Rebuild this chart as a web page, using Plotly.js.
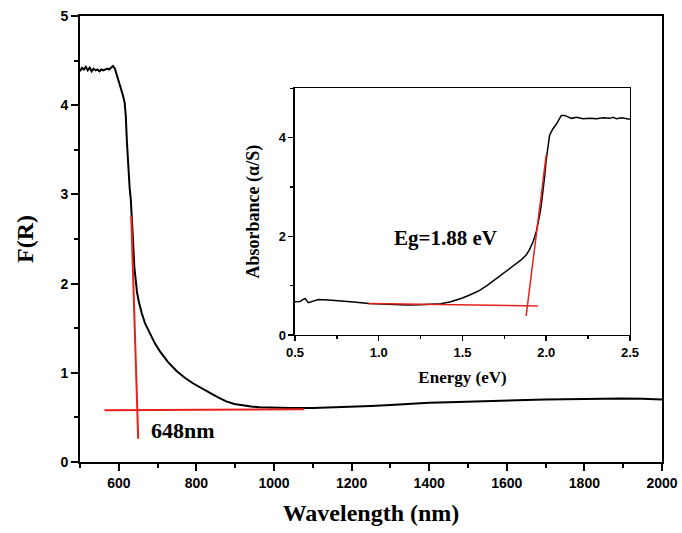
<!DOCTYPE html>
<html>
<head>
<meta charset="utf-8">
<script src="https://cdn.plot.ly/plotly-3.0.1.min.js"></script>
<style>html,body{margin:0;padding:0;background:#fff;}#chart{width:682px;height:533px;}</style>
</head>
<body>
<div id="chart"></div>
<script>
// Main spectrum: Kubelka-Munk F(R) vs wavelength
var wavelength = [500,505,510,515,520,525,530,535,540,545,550,555,560,565,570,575,580,585,590,595,600,605,610,615,618,621,625,628,631,634,637,640,643,647,652,659,668,681,693,706,727,749,770,792,813,835,856,877,898,920,941,963,990,1040,1100,1150,1200,1250,1300,1350,1380,1400,1450,1500,1550,1600,1650,1700,1750,1800,1850,1900,1950,2000];
var fr = [4.38,4.42,4.40,4.43,4.39,4.42,4.38,4.41,4.39,4.40,4.38,4.40,4.39,4.40,4.41,4.40,4.42,4.44,4.41,4.34,4.27,4.20,4.12,4.03,3.88,3.58,3.22,3.07,2.94,2.75,2.45,2.19,2.02,1.90,1.79,1.67,1.55,1.43,1.33,1.24,1.12,1.02,0.945,0.88,0.825,0.775,0.725,0.68,0.65,0.633,0.622,0.614,0.608,0.605,0.605,0.61,0.618,0.628,0.64,0.652,0.662,0.665,0.67,0.678,0.685,0.69,0.695,0.70,0.705,0.71,0.712,0.712,0.71,0.70];
// Tangent lines on main plot
var baseX = [563, 1078];
var baseY = [0.58, 0.59];
var edgeX = [632, 650];
var edgeY = [2.76, 0.26];
var mainXTicks = [600, 800, 1000, 1200, 1400, 1600, 1800, 2000];
var mainYTicks = [0, 1, 2, 3, 4, 5];

// Inset: absorbance vs energy
var energy = [0.50,0.53,0.55,0.56,0.58,0.60,0.64,0.70,0.77,0.85,0.94,1.05,1.17,1.25,1.32,1.37,1.43,1.50,1.55,1.60,1.65,1.70,1.75,1.80,1.85,1.88,1.90,1.92,1.94,1.96,1.97,1.99,2.00,2.02,2.04,2.06,2.08,2.09,2.11,2.13,2.15,2.18,2.22,2.26,2.30,2.34,2.38,2.40,2.42,2.45,2.48,2.50];
var absorb = [0.675,0.68,0.72,0.74,0.655,0.68,0.72,0.71,0.695,0.67,0.64,0.62,0.61,0.615,0.625,0.635,0.675,0.75,0.82,0.90,1.01,1.14,1.26,1.39,1.52,1.62,1.73,1.88,2.08,2.42,2.62,3.20,3.55,4.05,4.18,4.27,4.38,4.45,4.45,4.42,4.39,4.41,4.38,4.39,4.38,4.40,4.39,4.41,4.38,4.40,4.39,4.37];
var insBaseX = [0.94, 1.95];
var insBaseY = [0.64, 0.587];
var insEdgeX = [1.88, 2.00];
var insEdgeY = [0.385, 3.65];
var insXTicks = [0.5, 1.0, 1.5, 2.0, 2.5];
var insYTicks = [0, 2, 4];

function boldText(arr, digits) {
  return arr.map(function (v) { return '<b>' + (digits ? v.toFixed(digits) : String(v)) + '</b>'; });
}

var red = '#e8201c';
var traces = [
  {x: wavelength, y: fr, type: 'scatter', mode: 'lines', line: {color: '#000', width: 2}, xaxis: 'x', yaxis: 'y'},
  {x: baseX, y: baseY, type: 'scatter', mode: 'lines', line: {color: red, width: 2}, xaxis: 'x', yaxis: 'y'},
  {x: edgeX, y: edgeY, type: 'scatter', mode: 'lines', line: {color: red, width: 2}, xaxis: 'x', yaxis: 'y'},
  {x: energy, y: absorb, type: 'scatter', mode: 'lines', line: {color: '#000', width: 1.5}, xaxis: 'x2', yaxis: 'y2'},
  {x: insBaseX, y: insBaseY, type: 'scatter', mode: 'lines', line: {color: red, width: 1.5}, xaxis: 'x2', yaxis: 'y2'},
  {x: insEdgeX, y: insEdgeY, type: 'scatter', mode: 'lines', line: {color: red, width: 1.5}, xaxis: 'x2', yaxis: 'y2'}
];

var tickFont = {family: '"Liberation Sans", Arial, sans-serif', size: 14, color: '#000'};
var insTickFont = {family: '"Liberation Sans", Arial, sans-serif', size: 13, color: '#000'};
var serifBold = function(s){ return {family: '"Liberation Serif", "Times New Roman", serif', size: s, color: '#000', weight: 700}; };

var layout = {
  width: 682, height: 533,
  margin: {l: 80, r: 20, t: 16, b: 71},
  paper_bgcolor: '#fff', plot_bgcolor: '#fff',
  showlegend: false,
  xaxis: {
    domain: [0, 1], range: [500, 2000],
    showgrid: false, zeroline: false, showline: true, linecolor: '#000', linewidth: 2, mirror: true,
    ticks: 'outside', ticklen: 7, tickwidth: 2, tickcolor: '#000',
    minor: {dtick: 100, tick0: 0, ticks: 'outside', ticklen: 4, tickwidth: 2, tickcolor: '#000', showgrid: false},
    tickfont: tickFont, tickmode: 'array', tickvals: mainXTicks, ticktext: boldText(mainXTicks, 0),
    title: {text: 'Wavelength (nm)', font: serifBold(24), standoff: 14}
  },
  yaxis: {
    domain: [0, 1], range: [0, 5],
    showgrid: false, zeroline: false, showline: true, linecolor: '#000', linewidth: 2, mirror: true,
    ticks: 'outside', ticklen: 7, tickwidth: 2, tickcolor: '#000',
    minor: {dtick: 0.5, tick0: 0, ticks: 'outside', ticklen: 4, tickwidth: 2, tickcolor: '#000', showgrid: false},
    tickfont: tickFont, tickmode: 'array', tickvals: mainYTicks, ticktext: boldText(mainYTicks, 0),
    title: {text: 'F(R)', font: serifBold(24), standoff: 20}
  },
  xaxis2: {
    domain: [0.3694, 0.945], range: [0.5, 2.5], anchor: 'y2',
    showgrid: false, zeroline: false, showline: true, linecolor: '#000', linewidth: 1.5, mirror: true,
    ticks: 'outside', ticklen: 5, tickwidth: 1.5, tickcolor: '#000',
    minor: {dtick: 0.25, tick0: 0.5, ticks: 'outside', ticklen: 3, tickwidth: 1.5, tickcolor: '#000', showgrid: false},
    tickfont: insTickFont, tickmode: 'array', tickvals: insXTicks, ticktext: boldText(insXTicks, 1),
    title: {text: 'Energy (eV)', font: serifBold(17), standoff: 12}
  },
  yaxis2: {
    domain: [0.2848, 0.838], range: [0, 5], anchor: 'x2',
    showgrid: false, zeroline: false, showline: true, linecolor: '#000', linewidth: 1.5, mirror: true,
    ticks: 'outside', ticklen: 5, tickwidth: 1.5, tickcolor: '#000',
    minor: {dtick: 1, tick0: 0, ticks: 'outside', ticklen: 3, tickwidth: 1.5, tickcolor: '#000', showgrid: false},
    tickfont: insTickFont, tickmode: 'array', tickvals: insYTicks, ticktext: boldText(insYTicks, 0),
    title: {text: 'Absorbance (α/S)', font: serifBold(18), standoff: 14}
  },
  annotations: [
    {x: 765, y: 0.356, xref: 'x', yref: 'y', text: '648nm', showarrow: false, font: serifBold(22)},
    {x: 1.40, y: 1.97, xref: 'x2', yref: 'y2', text: 'Eg=1.88 eV', showarrow: false, font: serifBold(21)}
  ]
};

Plotly.newPlot('chart', traces, layout, {displayModeBar: false, staticPlot: true});
</script>
</body>
</html>
